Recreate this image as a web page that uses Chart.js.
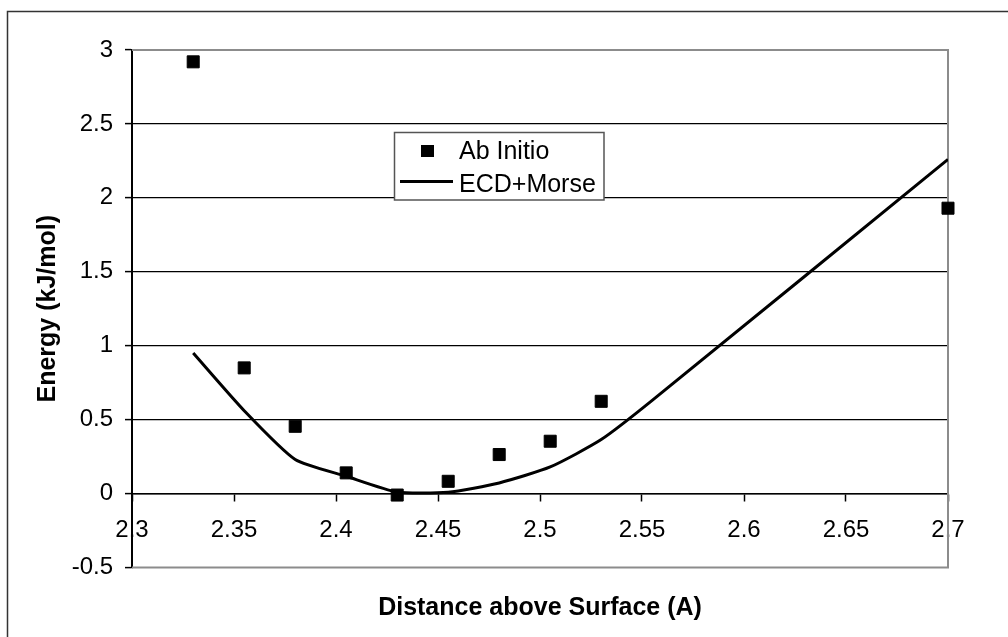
<!DOCTYPE html>
<html>
<head>
<meta charset="utf-8">
<title>Energy vs distance</title>
<script src="https://cdn.jsdelivr.net/npm/chart.js@4.4.1/dist/chart.umd.min.js"></script>
<style>
  html, body { margin: 0; padding: 0; background: #fff; }
  #wrap { width: 1008px; height: 637px; }
</style>
</head>
<body>
<div id="wrap"><canvas id="energyChart" width="1008" height="637"></canvas></div>
<script>
// distance above the surface (A) and energies (kJ/mol)
const abInitioDist = [2.33, 2.355, 2.38, 2.405, 2.43, 2.455, 2.48, 2.505, 2.53, 2.7];
const abInitio = [2.92, 0.85, 0.455, 0.14, -0.01, 0.083, 0.264, 0.354, 0.624, 1.93];

const ecdDist = [2.33, 2.355, 2.38, 2.405, 2.43, 2.455, 2.48, 2.505, 2.53, 2.555, 2.7];
const ecdMorse = [0.95, 0.56, 0.23, 0.117, 0.01, 0.009, 0.072, 0.18, 0.365, 0.63, 2.26];

const seriesNames = ['Ab Initio', 'ECD+Morse'];

const xTicks = [2.3, 2.35, 2.4, 2.45, 2.5, 2.55, 2.6, 2.65, 2.7];
const xTickLabels = ['2.3', '2.35', '2.4', '2.45', '2.5', '2.55', '2.6', '2.65', '2.7'];
const yTicks = [-0.5, 0, 0.5, 1, 1.5, 2, 2.5, 3];
const yTickLabels = ['-0.5', '0', '0.5', '1', '1.5', '2', '2.5', '3'];

const FONT = "'Liberation Sans', Arial, sans-serif";

function toPoints(xs, ys) {
    return xs.map((x, i) => ({ x: x, y: ys[i] }));
}

// grey frame round the plot area (top, right, bottom)
const plotFrame = {
    id: 'plotFrame',
    beforeDatasetsDraw(chart) {
        const { ctx, chartArea: a } = chart;
        ctx.save();
        ctx.strokeStyle = '#8c8c8c';
        ctx.lineWidth = 2;
        ctx.beginPath();
        ctx.moveTo(a.left, a.top);
        ctx.lineTo(a.right, a.top);
        ctx.lineTo(a.right, a.bottom);
        ctx.lineTo(a.left, a.bottom);
        ctx.stroke();
        ctx.restore();
    }
};

// white background and the outer border of the chart
const chartBorder = {
    id: 'chartBorder',
    beforeDraw(chart) {
        const ctx = chart.ctx;
        ctx.save();
        ctx.fillStyle = '#fff';
        ctx.fillRect(0, 0, chart.width, chart.height);
        ctx.strokeStyle = '#333';
        ctx.lineWidth = 1.5;
        ctx.strokeRect(7.5, 11.5, 1200, 1000);
        ctx.restore();
    }
};

// boxed legend sitting inside the plot
const boxLegend = {
    id: 'boxLegend',
    afterDatasetsDraw(chart) {
        const ctx = chart.ctx;
        const sets = chart.data.datasets;
        ctx.save();
        ctx.fillStyle = '#fff';
        ctx.fillRect(394, 132, 210, 68);
        ctx.strokeStyle = '#555';
        ctx.lineWidth = 1.5;
        ctx.strokeRect(394.5, 132.5, 209.5, 67.5);

        // marker sample
        ctx.fillStyle = '#000';
        ctx.fillRect(421, 145, 13, 12);
        // line sample
        ctx.strokeStyle = '#000';
        ctx.lineWidth = 3;
        ctx.beginPath();
        ctx.moveTo(400, 181.5);
        ctx.lineTo(453, 181.5);
        ctx.stroke();

        ctx.font = '25px ' + FONT;
        ctx.textBaseline = 'alphabetic';
        ctx.textAlign = 'left';
        ctx.fillText(sets[0].label, 459, 159);
        ctx.fillText(sets[1].label, 459, 191.5);
        ctx.restore();
    }
};

const ctx = document.getElementById('energyChart');

new Chart(ctx, {
    type: 'scatter',
    data: {
        datasets: [
            {
                label: seriesNames[0],
                data: toPoints(abInitioDist, abInitio),
                pointStyle: 'rect',
                pointRadius: 8.5,
                pointBorderWidth: 1,
                backgroundColor: '#000',
                borderColor: '#000',
                clip: false
            },
            {
                label: seriesNames[1],
                data: toPoints(ecdDist, ecdMorse),
                showLine: true,
                pointRadius: 0,
                borderColor: '#000',
                borderWidth: 3,
                tension: 0.2
            }
        ]
    },
    options: {
        responsive: false,
        animation: false,
        layout: {
            padding: { left: 0, top: 50, right: 60, bottom: 0 }
        },
        plugins: {
            legend: { display: false },
            tooltip: { enabled: false }
        },
        scales: {
            x: {
                type: 'linear',
                position: { y: 0 },
                min: 2.3,
                max: 2.7,
                afterBuildTicks: scale => {
                    scale.ticks = xTicks.map(v => ({ value: v }));
                },
                ticks: {
                    callback: (value, index) => xTickLabels[index],
                    autoSkip: false,
                    maxRotation: 0,
                    padding: 15,
                    color: '#000',
                    font: { family: FONT, size: 24 }
                },
                grid: {
                    drawOnChartArea: false,
                    drawTicks: true,
                    tickLength: 7,
                    tickColor: '#000',
                    tickWidth: 1.5
                },
                border: { display: true, color: '#000', width: 1.5 }
            },
            xTitle: {
                type: 'linear',
                axis: 'x',
                position: 'bottom',
                min: 2.3,
                max: 2.7,
                afterFit: scale => { scale.height = 69.5; },
                ticks: { display: false },
                grid: { display: false },
                border: { display: false },
                title: {
                    display: true,
                    text: 'Distance above Surface (A)',
                    color: '#000',
                    font: { family: FONT, size: 25, weight: 'bold' },
                    padding: { top: 0, bottom: 14 }
                }
            },
            y: {
                type: 'linear',
                position: 'left',
                min: -0.5,
                max: 3,
                afterFit: scale => { scale.width = 132; },
                afterBuildTicks: scale => {
                    scale.ticks = yTicks.map(v => ({ value: v }));
                },
                ticks: {
                    callback: (value, index) => yTickLabels[index],
                    padding: 12,
                    color: '#000',
                    font: { family: FONT, size: 24 }
                },
                grid: {
                    color: c => (c.tick && (c.tick.value === 3 || c.tick.value === -0.5)) ? 'rgba(0,0,0,0)' : '#000',
                    lineWidth: 1.2,
                    tickLength: 7,
                    tickColor: '#000',
                    tickWidth: 1.5
                },
                border: { display: true, color: '#000', width: 2 },
                title: {
                    display: true,
                    text: 'Energy (kJ/mol)',
                    color: '#000',
                    font: { family: FONT, size: 25, weight: 'bold' },
                    padding: { top: 33, bottom: 0 }
                }
            }
        }
    },
    plugins: [chartBorder, plotFrame, boxLegend]
});
</script>
</body>
</html>
